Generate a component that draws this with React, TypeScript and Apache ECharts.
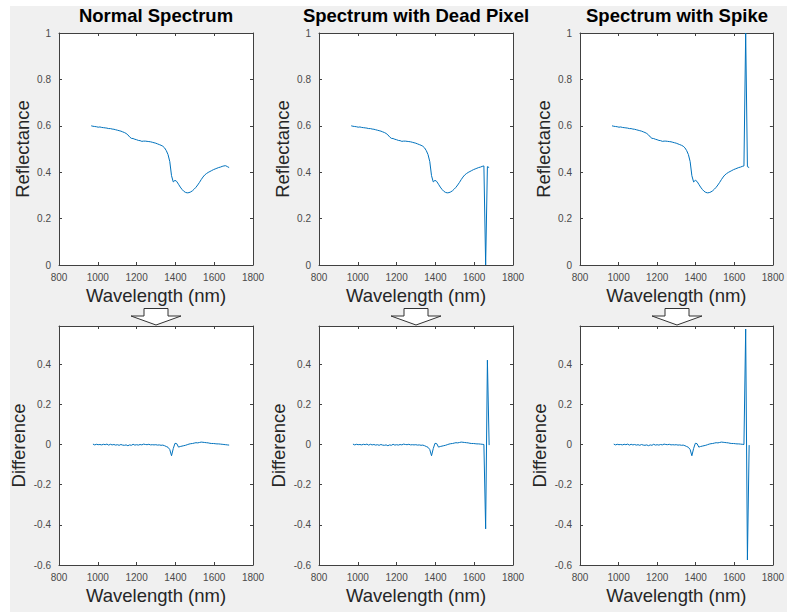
import React, { useEffect, useRef } from "react";
import * as echarts from "echarts";

// Wavelength samples (nm)
const wavelengths = [
  966, 975, 984, 993, 1002, 1011, 1020, 1029, 1038, 1047,
  1056, 1065, 1074, 1083, 1092, 1101, 1110, 1119, 1128, 1137,
  1146, 1155, 1164, 1173, 1182, 1191, 1200, 1209, 1218, 1227,
  1236, 1245, 1254, 1263, 1272, 1281, 1290, 1299, 1308, 1317,
  1326, 1335, 1344, 1353, 1362, 1371, 1380, 1389, 1398, 1407,
  1416, 1425, 1434, 1443, 1452, 1461, 1470, 1479, 1488, 1497,
  1506, 1515, 1524, 1533, 1542, 1551, 1560, 1569, 1578, 1587,
  1596, 1605, 1614, 1623, 1632, 1641, 1650, 1659, 1668, 1677,
];

// Normal reflectance spectrum
const normalReflectance = [
  0.600, 0.598, 0.597, 0.596, 0.594, 0.595, 0.593, 0.592, 0.591, 0.590,
  0.588, 0.588, 0.586, 0.585, 0.583, 0.581, 0.579, 0.577, 0.574, 0.571,
  0.567, 0.561, 0.552, 0.546, 0.545, 0.542, 0.540, 0.537, 0.536, 0.533,
  0.534, 0.534, 0.533, 0.532, 0.531, 0.529, 0.527, 0.525, 0.522, 0.519,
  0.516, 0.512, 0.505, 0.493, 0.476, 0.446, 0.385, 0.358, 0.365, 0.360,
  0.348, 0.336, 0.326, 0.318, 0.313, 0.311, 0.312, 0.315, 0.320, 0.327,
  0.335, 0.345, 0.356, 0.368, 0.379, 0.388, 0.394, 0.399, 0.403, 0.407,
  0.411, 0.414, 0.417, 0.420, 0.422, 0.425, 0.427, 0.428, 0.424, 0.420,
];

// Difference of the normal spectrum (wavelengths 975 .. 1677)
const normalDifference = [
  0.002, -0.002, 0.001, -0.001, 0.000, -0.002, 0.001, -0.001, 0.002, -0.003,
  0.001, -0.002, 0.000, -0.003, -0.001, -0.004, 0.000, -0.003, -0.004, -0.002,
  -0.006, -0.002, -0.004, 0.001, -0.003, -0.001, -0.003, 0.000, -0.002, 0.002,
  0.000, -0.001, 0.001, -0.002, -0.001, -0.002, -0.001, -0.003, -0.002, -0.004,
  -0.003, -0.006, -0.010, -0.014, -0.025, -0.056, -0.020, 0.006, 0.004, -0.013,
  -0.010, -0.008, -0.006, -0.004, -0.001, 0.002, 0.004, 0.005, 0.007, 0.009,
  0.008, 0.010, 0.012, 0.011, 0.010, 0.009, 0.008, 0.006, 0.005, 0.005,
  0.004, 0.003, 0.003, 0.002, 0.001, 0.000, -0.001, -0.002, -0.003,
];

// Defect at 1659 nm
const defectWavelength = 1659;
const deadPixelValue = 0.0;
const spikeValue = 1.0;
const deadPixelDifference = [-0.42, 0.42]; // at 1659 and 1668 nm
const spikeDifference = [0.575, -0.575]; // at 1659 and 1668 nm

const titles = ["Normal Spectrum", "Spectrum with Dead Pixel", "Spectrum with Spike"];

const FONT = "'Liberation Sans', Arial, Helvetica, sans-serif";
const LINE_COLOR = "#0072BD";
const AXIS_COLOR = "#404040";
const LABEL_COLOR = "#4a4a4a";
const NAME_COLOR = "#262626";

const colLefts = [59, 319, 580];
const colWidth = 194;
const topRow = { top: 33, height: 232 };
const botRow = { top: 326, height: 239 };

function buildSpectrum(defect: number | null) {
  const idx = wavelengths.indexOf(defectWavelength);
  return wavelengths.map((w, i) => [w, defect !== null && i === idx ? defect : normalReflectance[i]]);
}

function buildDifference(defect: number[] | null) {
  const idx = wavelengths.indexOf(defectWavelength);
  return normalDifference.map((d, j) => {
    const i = j + 1;
    let v = d;
    if (defect && i === idx) v = defect[0];
    if (defect && i === idx + 1) v = defect[1];
    return [wavelengths[i], v];
  });
}

export default function App() {
  const ref = useRef<HTMLDivElement>(null);
  useEffect(() => {
    if (!ref.current) return;
    const chart = echarts.init(ref.current, undefined, { renderer: "svg" });

    const grids: any[] = [];
    const xAxes: any[] = [];
    const yAxes: any[] = [];
    const series: any[] = [];

    const tick = { show: true, inside: true, length: 3, lineStyle: { color: AXIS_COLOR, width: 1 } };
    const line = { show: true, onZero: false, lineStyle: { color: AXIS_COLOR, width: 1 } };

    const spectra = [buildSpectrum(null), buildSpectrum(deadPixelValue), buildSpectrum(spikeValue)];
    const diffs = [buildDifference(null), buildDifference(deadPixelDifference), buildDifference(spikeDifference)];

    for (let row = 0; row < 2; row++) {
      for (let col = 0; col < 3; col++) {
        const gi = grids.length;
        const r = row === 0 ? topRow : botRow;
        grids.push({
          left: colLefts[col],
          top: r.top,
          width: colWidth,
          height: r.height,
          show: true,
          backgroundColor: "#ffffff",
          borderWidth: 0,
          containLabel: false,
        });
        const xCommon = { type: "value", gridIndex: gi, min: 800, max: 1800, interval: 200, splitLine: { show: false }, axisLine: line, axisTick: tick };
        xAxes.push({
          ...xCommon,
          position: "bottom",
          axisLabel: {
            show: true,
            margin: 7,
            fontSize: 10,
            color: LABEL_COLOR,
            fontFamily: FONT,
            formatter: (v: number) => String(Math.round(v)),
          },
          name: "Wavelength (nm)",
          nameLocation: "middle",
          nameGap: 21,
          nameTextStyle: { fontSize: 18.5, color: NAME_COLOR, fontFamily: FONT },
        });
        xAxes.push({ ...xCommon, position: "top", axisLabel: { show: false } });

        const yMin = row === 0 ? 0 : -0.6;
        const yMax = row === 0 ? 1 : 0.59;
        const yCommon = { type: "value", gridIndex: gi, min: yMin, max: yMax, interval: 0.2, splitLine: { show: false }, axisLine: line, axisTick: tick };
        yAxes.push({
          ...yCommon,
          position: "left",
          axisLabel: {
            show: true,
            margin: 8,
            fontSize: 10,
            color: LABEL_COLOR,
            fontFamily: FONT,
            showMaxLabel: row === 0,
            formatter: (v: number) => {
              const k = Math.round(v / 0.2);
              if (Math.abs(v - k * 0.2) > 1e-6) return "";
              const n = Math.round(k * 0.2 * 10) / 10;
              return String(n);
            },
          },
          name: row === 0 ? "Reflectance" : "Difference",
          nameLocation: "middle",
          nameGap: row === 0 ? 27 : 31,
          nameTextStyle: { fontSize: 18.5, color: NAME_COLOR, fontFamily: FONT },
        });
        yAxes.push({ ...yCommon, position: "right", axisLabel: { show: false } });

        series.push({
          type: "line",
          xAxisIndex: gi * 2,
          yAxisIndex: gi * 2,
          data: row === 0 ? spectra[col] : diffs[col],
          showSymbol: false,
          symbol: "none",
          lineStyle: { color: LINE_COLOR, width: 1 },
          itemStyle: { color: LINE_COLOR },
          clip: true,
        });
      }
    }

    const arrows = colLefts.map((l) => {
      const c = l + colWidth / 2;
      return {
        type: "polygon",
        z: 100,
        shape: {
          points: [
            [c - 12, 308.5],
            [c + 12, 308.5],
            [c + 12, 316],
            [c + 25, 316],
            [c, 325],
            [c - 25, 316],
            [c - 12, 316],
          ],
        },
        style: { fill: "#ffffff", stroke: "#333333", lineWidth: 1 },
      };
    });

    chart.setOption({
      animation: false,
      backgroundColor: "#f0f0f0",
      textStyle: { fontFamily: FONT },
      title: titles.map((t, i) => ({
        text: t,
        left: colLefts[i] + colWidth / 2,
        top: 6,
        textAlign: "center",
        padding: 0,
        textStyle: { fontSize: 18.5, fontWeight: "bold", color: "#000000", fontFamily: FONT },
      })),
      grid: grids,
      xAxis: xAxes,
      yAxis: yAxes,
      series,
      graphic: [
        { type: "rect", shape: { x: 0, y: 0, width: 787, height: 6 }, style: { fill: "#ffffff" }, z: 0 },
        { type: "rect", shape: { x: 0, y: 0, width: 10, height: 612 }, style: { fill: "#ffffff" }, z: 0 },
        ...arrows,
      ],
    });
    return () => chart.dispose();
  }, []);

  return <div ref={ref} style={{ position: "absolute", left: 0, top: 0, width: 787, height: 612 }} />;
}
